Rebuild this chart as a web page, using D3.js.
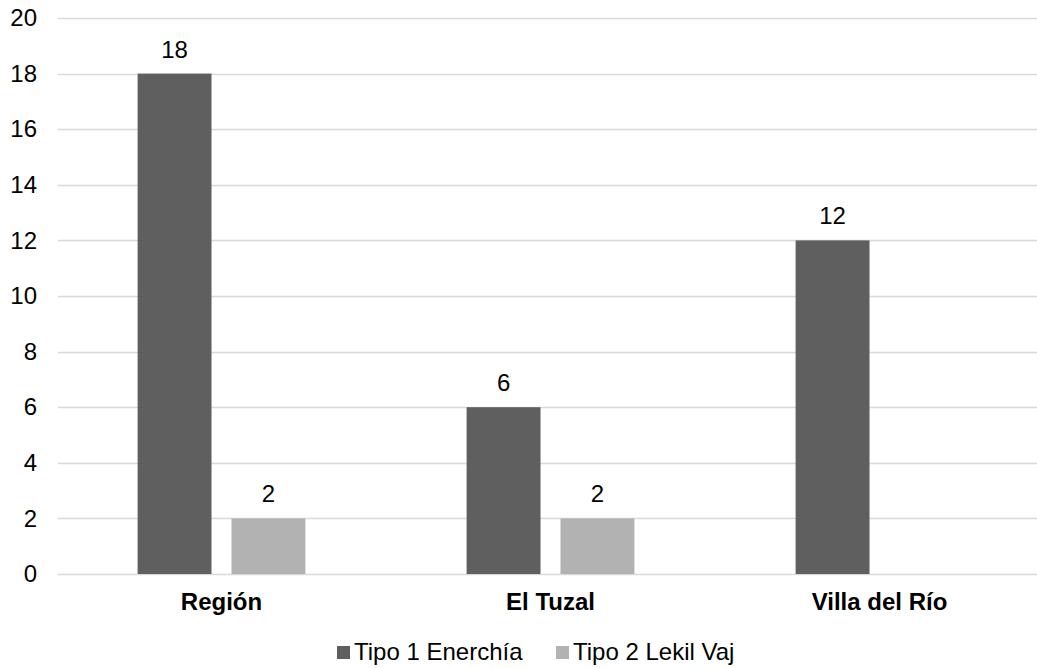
<!DOCTYPE html>
<html>
<head>
<meta charset="utf-8">
<script src="https://cdn.jsdelivr.net/npm/d3@7"></script>
<style>
  html, body { margin: 0; padding: 0; background: #fff; }
  svg { display: block; font-family: "Liberation Sans", Arial, sans-serif; }
</style>
</head>
<body>
<svg id="chart" width="1037" height="668"></svg>
<script>
const categories = ["Región", "El Tuzal", "Villa del Río"];
const seriesNames = ["Tipo 1 Enerchía", "Tipo 2 Lekil Vaj"];
const tipo1 = [18, 6, 12];
const tipo2 = [2, 2, null];
const yTicks = [0, 2, 4, 6, 8, 10, 12, 14, 16, 18, 20];
const colors = ["#5f5f5f", "#b2b2b2"];

const seriesValues = [tipo1, tipo2];
const svg = d3.select("#chart");
const FS = 24;

const x0 = d3.scaleBand().domain(categories).range([57, 1044]).padding(0);
const groupHalf = x0.bandwidth() * 0.255;
const x1 = d3.scaleBand().domain(seriesNames).range([-groupHalf, groupHalf]).paddingInner(0.2128).paddingOuter(0);
const y = d3.scaleLinear().domain([0, 20]).range([574, 18]);

// gridlines
svg.append("g")
  .selectAll("line")
  .data(yTicks)
  .join("line")
  .attr("x1", 58).attr("x2", 1037)
  .attr("y1", d => Math.round(y(d)) + 0.5).attr("y2", d => Math.round(y(d)) + 0.5)
  .attr("stroke", "#d9d9d9").attr("stroke-width", 1.5);

// y axis labels
const yAxis = d3.axisLeft(y).tickValues(yTicks).tickSize(0).tickPadding(0);
const yg = svg.append("g").attr("transform", "translate(37,0)").call(yAxis);
yg.select(".domain").remove();
yg.selectAll("text").attr("font-size", FS).attr("fill", "#000").attr("font-family", "Liberation Sans, Arial, sans-serif");

// bars
seriesNames.forEach((s, si) => {
  const data = categories.map((c, i) => ({ c, v: seriesValues[si][i] })).filter(d => d.v != null);
  const g = svg.append("g");
  g.selectAll("rect")
    .data(data)
    .join("rect")
    .attr("x", d => x0(d.c) + x0.bandwidth() / 2 + x1(s))
    .attr("width", x1.bandwidth())
    .attr("y", d => y(d.v))
    .attr("height", d => y(0) - y(d.v))
    .attr("fill", colors[si]);
  g.selectAll("text")
    .data(data)
    .join("text")
    .attr("x", d => x0(d.c) + x0.bandwidth() / 2 + x1(s) + x1.bandwidth() / 2)
    .attr("y", d => y(d.v) - 16)
    .attr("text-anchor", "middle")
    .attr("font-size", FS)
    .attr("fill", "#000")
    .text(d => d.v);
});

// x axis labels
const xAxis = d3.axisBottom(x0).tickSize(0).tickPadding(0);
const xg = svg.append("g").attr("transform", "translate(0,593)").call(xAxis);
xg.select(".domain").remove();
xg.selectAll("text").attr("font-size", FS).attr("font-weight", "bold").attr("fill", "#000")
  .attr("font-family", "Liberation Sans, Arial, sans-serif");

// legend
const legendX = [337, 556];
const lg = svg.append("g");
seriesNames.forEach((s, i) => {
  lg.append("rect").attr("x", legendX[i]).attr("y", 646).attr("width", 13).attr("height", 13).attr("fill", colors[i]);
  lg.append("text").attr("x", legendX[i] + 17).attr("y", 660).attr("font-size", FS).attr("fill", "#000").text(s);
});
</script>
</body>
</html>
